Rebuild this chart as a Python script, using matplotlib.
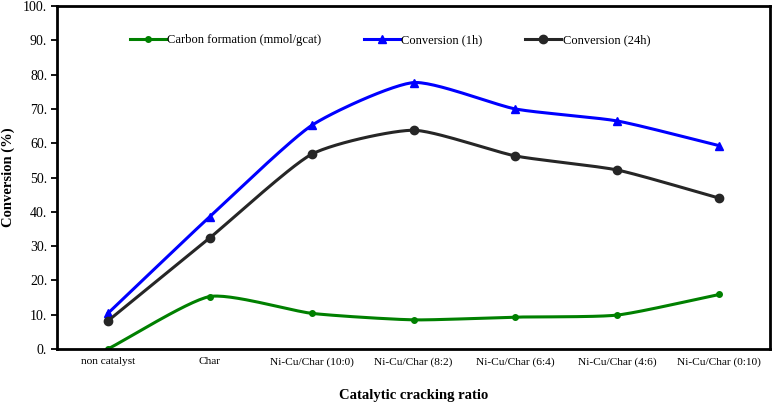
import numpy as np
import matplotlib.pyplot as plt

categories = ['non catalyst', 'Char', 'Ni-Cu/Char (10:0)', 'Ni-Cu/Char (8:2)',
              'Ni-Cu/Char (6:4)', 'Ni-Cu/Char (4:6)', 'Ni-Cu/Char (0:10)']
carbon = [0.0, 15.3, 10.4, 8.5, 9.3, 9.9, 15.9]
conv_1h = [10.4, 38.6, 65.2, 77.7, 70.0, 66.5, 59.3]
conv_24h = [8.2, 32.4, 56.8, 63.8, 56.3, 52.2, 44.0]
yticks = [0, 10, 20, 30, 40, 50, 60, 70, 80, 90, 100]

plt.rcParams['font.family'] = ['Liberation Serif', 'DejaVu Serif']


def smooth(xs, ys, n=30):
    # Catmull-Rom style curve through the points (like Excel "smoothed line")
    xs = np.asarray(xs, float)
    ys = np.asarray(ys, float)
    px = np.concatenate([[2 * xs[0] - xs[1]], xs, [2 * xs[-1] - xs[-2]]])
    py = np.concatenate([[2 * ys[0] - ys[1]], ys, [2 * ys[-1] - ys[-2]]])
    outx, outy = [], []
    for i in range(1, len(px) - 2):
        t = np.linspace(0, 1, n)
        for p, out in ((px, outx), (py, outy)):
            p0, p1, p2, p3 = p[i - 1], p[i], p[i + 1], p[i + 2]
            m1 = (p2 - p0) / 2 * 0.6
            m2 = (p3 - p1) / 2 * 0.6
            h00 = 2 * t**3 - 3 * t**2 + 1
            h10 = t**3 - 2 * t**2 + t
            h01 = -2 * t**3 + 3 * t**2
            h11 = t**3 - t**2
            out.extend(h00 * p1 + h10 * m1 + h01 * p2 + h11 * m2)
    return np.array(outx), np.array(outy)


fig = plt.figure(figsize=(7.74, 4.07), dpi=100)
ax = fig.add_axes([0.0736, 0.1425, 0.9214, 0.8425])

x = np.arange(len(categories))
series = [
    (carbon, '#008000', 'o', 4, 'Carbon formation (mmol/gcat)'),
    (conv_1h, '#0000ff', '^', 6, 'Conversion (1h)'),
    (conv_24h, '#262626', 'o', 6, 'Conversion (24h)'),
]
for ys, col, mk, ms, lab in series:
    sx, sy = smooth(x, ys)
    ax.plot(sx, sy, color=col, lw=2.2)
    ax.plot(x, ys, linestyle='none', marker=mk, color=col, ms=ms)
    ax.plot([], [], color=col, lw=2.2, marker=mk, ms=ms, label=lab)

ax.set_xlim(-0.5, 6.5)
ax.set_ylim(0, 100)
ax.set_xticks(x)
ax.set_xticklabels(categories, fontsize=8.2)
ax.set_yticks(yticks)
ax.set_yticklabels([f'{v}.' for v in yticks], fontsize=10)
ax.tick_params(axis='x', length=0, pad=6)
ax.tick_params(axis='y', length=4, width=1.3, pad=3)
for s in ax.spines.values():
    s.set_linewidth(2)

ax.set_ylabel('Conversion (%)', fontsize=10.5, fontweight='bold', labelpad=6)
ax.set_xlabel('Catalytic cracking ratio', fontsize=10.5, fontweight='bold', labelpad=16)

ax.legend(loc='upper center', bbox_to_anchor=(0.467, 0.95), ncol=3, frameon=False,
          fontsize=9, handlelength=2.9, columnspacing=3.4, handletextpad=0.1)

fig.savefig('out.png', dpi=100)
